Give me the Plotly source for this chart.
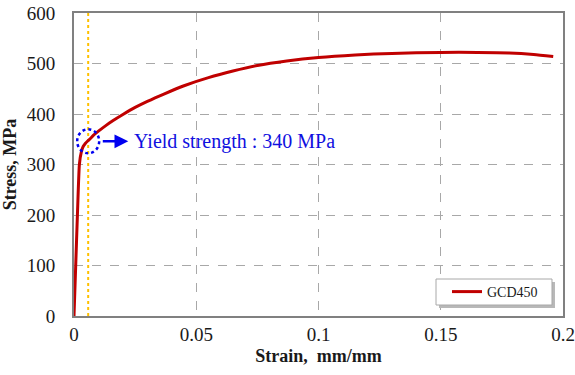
import plotly.graph_objects as go

# Data
strain = [0, 0.0007, 0.0014, 0.0022, 0.003, 0.0038, 0.0047, 0.0057, 0.0068, 0.008,
          0.01, 0.013, 0.016, 0.02, 0.025, 0.03, 0.037, 0.045, 0.055, 0.065,
          0.075, 0.087, 0.1, 0.115, 0.13, 0.15, 0.165, 0.178, 0.188, 0.196]
stress = [0, 100, 200, 300, 325, 336, 342, 347, 352, 358,
          366, 377, 387, 399, 413, 425, 440, 456, 472, 485,
          496, 505, 512, 517, 520, 522, 522, 521, 518, 514]
series_name = "GCD450"
yield_strain = 0.0058
yield_stress = 346
yield_label = "Yield strength : 340 MPa"
x_ticks = [0, 0.05, 0.1, 0.15, 0.2]
x_ticktext = ["0", "0.05", "0.1", "0.15", "0.2"]
y_ticks = [0, 100, 200, 300, 400, 500, 600]

FONT = "Liberation Serif, Times New Roman, serif"

fig = go.Figure()

# Yellow dotted vertical line at yield strain
fig.add_trace(go.Scatter(
    x=[yield_strain, yield_strain], y=[0, 600], mode="lines",
    line=dict(color="#FFC000", width=2, dash="dot"),
    showlegend=False, hoverinfo="skip"))

fig.add_trace(go.Scatter(
    x=strain, y=stress, mode="lines", name=series_name,
    line=dict(color="#C00000", width=3, shape="spline", smoothing=0.5)))

# Legend shadow and box
fig.add_shape(type="rect", xref="paper", yref="paper",
              x0=0.7464, x1=0.9836, y0=0.0264, y1=0.1122,
              fillcolor="#b8b8b8", line=dict(width=0), layer="above")
fig.add_shape(type="rect", xref="paper", yref="paper",
              x0=0.7403, x1=0.9775, y0=0.0363, y1=0.1221,
              fillcolor="white", line=dict(color="#a8a8a8", width=1), layer="above")

# Dotted circle around yield point
fig.add_shape(type="circle", xref="x", yref="y",
              xsizemode="pixel", ysizemode="pixel",
              xanchor=yield_strain, yanchor=yield_stress,
              x0=-11, x1=11, y0=-12, y1=12,
              line=dict(color="#0000F0", width=2.5, dash="dot"))

# Arrow
fig.add_annotation(x=0.0222, y=yield_stress, ax=-27, ay=0, text="",
                   showarrow=True, arrowhead=2, arrowsize=1.1, arrowwidth=2.5,
                   arrowcolor="#0000F0", xref="x", yref="y")
fig.add_annotation(x=0.0237, y=yield_stress, text=yield_label, showarrow=False,
                   xanchor="left", yanchor="middle",
                   font=dict(family=FONT, size=20, color="#1010E0"))

fig.update_layout(
    width=575, height=375,
    margin=dict(l=74, r=12, t=13, b=59),
    paper_bgcolor="white", plot_bgcolor="white",
    font=dict(family=FONT, size=19, color="#1a1a1a"),
    legend=dict(x=0.7628, y=0.0792, xanchor="left", yanchor="middle",
                bgcolor="rgba(0,0,0,0)", borderwidth=0,
                font=dict(family=FONT, size=14, color="#1a1a1a")),
    xaxis=dict(range=[0, 0.2], tickvals=x_ticks, ticktext=x_ticktext,
               automargin=False, ticklabeloverflow="allow",
               showgrid=True, gridcolor="#a8a8a8", griddash="dash", gridwidth=1,
               showline=True, linecolor="#808080", linewidth=2, mirror=True,
               zeroline=False, ticks="", ticklen=0,
               tickfont=dict(family=FONT, size=19, color="#1a1a1a"),
               title=dict(text="<b>Strain,  mm/mm</b>", standoff=6,
                          font=dict(family=FONT, size=18, color="#1a1a1a"))),
    yaxis=dict(range=[0, 600], tickvals=y_ticks,
               automargin=False, ticklabelstandoff=13, ticklabeloverflow="allow",
               showgrid=True, gridcolor="#a8a8a8", griddash="dash", gridwidth=1,
               showline=True, linecolor="#808080", linewidth=2, mirror=True,
               zeroline=False, ticks="", ticklen=0,
               tickfont=dict(family=FONT, size=19, color="#1a1a1a"),
               title=dict(text="<b>Stress, MPa</b>", standoff=5,
                          font=dict(family=FONT, size=18, color="#1a1a1a"))),
)

fig.write_html("out.html", config={"displayModeBar": False},
               post_script="document.body.style.margin='0';")
